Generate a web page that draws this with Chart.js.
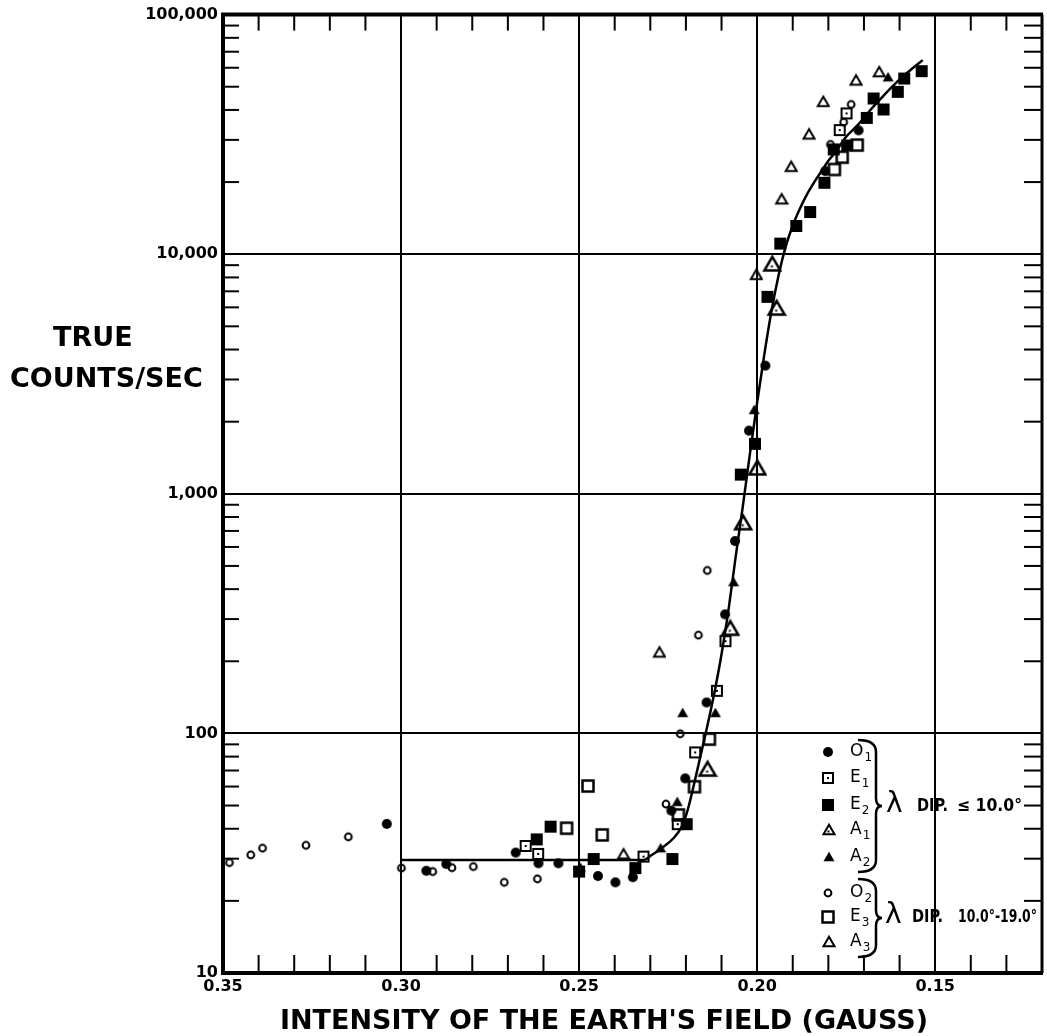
<!DOCTYPE html>
<html>
<head>
  <script src="https://cdn.jsdelivr.net/npm/chart.js@4.4.1/dist/chart.umd.min.js"></script>
  <style>
    * { margin: 0; padding: 0; box-sizing: border-box; }
    body { background: #fff; width: 1047px; height: 1036px; overflow: hidden; }
    #chart { display: block; background: #fff; }
  </style>
</head>
<body>
  <canvas id="chart" width="1047" height="1036"></canvas>

  <script>
    // axis ticks
    const xMajorTicks = [0.35, 0.30, 0.25, 0.20, 0.15];
    const xTickLabels = ['0.35', '0.30', '0.25', '0.20', '0.15'];
    const xMinorTicks = [0.34, 0.33, 0.32, 0.31, 0.29, 0.28, 0.27, 0.26, 0.24, 0.23, 0.22, 0.21,
                         0.19, 0.18, 0.17, 0.16, 0.14, 0.13];
    const yMajorTicks = [10, 100, 1000, 10000, 100000];
    const yTickLabels = ['10', '100', '1,000', '10,000', '100,000'];
    const yMinorTicks = [20, 30, 40, 50, 60, 70, 80, 90,
                         200, 300, 400, 500, 600, 700, 800, 900,
                         2000, 3000, 4000, 5000, 6000, 7000, 8000, 9000,
                         20000, 30000, 40000, 50000, 60000, 70000, 80000, 90000];

    // lambda dip <= 10.0
    const o1X = [0.3040, 0.2929, 0.2873, 0.2678, 0.2614, 0.2558, 0.2447, 0.2398, 0.2349, 0.2241,
                 0.2202, 0.2142, 0.2090, 0.2062, 0.2023, 0.1977, 0.1809, 0.1715];
    const o1Y = [41.9, 26.7, 28.5, 31.8, 28.7, 28.7, 25.4, 23.9, 25.1, 47.6,
                 64.9, 134.6, 314, 635, 1835, 3426, 22220, 32880];
    const e1X = [0.2650, 0.2615, 0.2319, 0.2223, 0.2174, 0.2113, 0.2089, 0.1768, 0.1749];
    const e1Y = [33.9, 31.4, 30.6, 41.8, 83.3, 150.5, 242.6, 32960, 38700];
    const e2X = [0.2619, 0.2580, 0.2500, 0.2459, 0.2342, 0.2238, 0.2198, 0.2046, 0.2006, 0.1971,
                 0.1935, 0.1890, 0.1851, 0.1811, 0.1785, 0.1747, 0.1692, 0.1673, 0.1645, 0.1605,
                 0.1587, 0.1538];
    const e2Y = [36.1, 40.8, 26.5, 29.9, 27.4, 29.9, 41.8, 1203, 1616, 6636,
                 11070, 13120, 15000, 19860, 27380, 28430, 37060, 44670, 40180, 47590,
                 54100, 58060];
    const a1X = [0.2142, 0.2078, 0.2042, 0.2002, 0.1948, 0.1960];
    const a1Y = [70.3, 272, 750, 1270, 5900, 9020];
    const a2X = [0.2499, 0.2274, 0.2227, 0.2212, 0.2120, 0.2069, 0.2011, 0.1635];
    const a2Y = [27.5, 33.2, 51.8, 121.8, 121.8, 428, 2240, 54800];

    // lambda dip 10.0 - 19.0
    const o2X = [0.3482, 0.3422, 0.3389, 0.3267, 0.3148, 0.2999, 0.2911, 0.2857, 0.2797, 0.2710,
                 0.2617, 0.2256, 0.2216, 0.2165, 0.2140, 0.1794, 0.1757, 0.1736];
    const o2Y = [28.9, 31.1, 33.2, 34.1, 37.0, 27.4, 26.5, 27.5, 27.8, 23.9,
                 24.7, 50.7, 99.6, 257, 478.6, 28710, 35570, 42170];
    const e3X = [0.2535, 0.2475, 0.2435, 0.2221, 0.2176, 0.2134, 0.1783, 0.1761, 0.1719];
    const e3Y = [40.2, 60.3, 37.7, 45.7, 59.9, 94.6, 22580, 25400, 28540];
    const a3X = [0.2378, 0.2277, 0.2005, 0.1934, 0.1907, 0.1857, 0.1817, 0.1725, 0.1660];
    const a3Y = [31.3, 217.6, 8200, 16950, 23170, 31620, 43230, 53090, 57540];

    // drawn curve
    const curveX = [0.300, 0.232, 0.2296, 0.2268, 0.2235, 0.2212, 0.2195, 0.2180, 0.2160, 0.2140,
                    0.2120, 0.2100, 0.2080, 0.2060, 0.2040, 0.2020, 0.2000, 0.1980, 0.1960, 0.1940,
                    0.1920, 0.1900, 0.1880, 0.1860, 0.1840, 0.1820, 0.1800, 0.1783, 0.1750, 0.1717,
                    0.1680, 0.1652, 0.1620, 0.1596, 0.1560, 0.1535];
    const curveY = [29.6, 29.6, 31.1, 33.2, 36.5, 40.8, 47.9, 58.9, 79.4, 107.2,
                    147.9, 213.8, 331, 549.5, 891, 1479, 2399, 3802, 5754, 8128,
                    10720, 13180, 15490, 17780, 19950, 22130, 24550, 26300, 30900, 34670,
                    40270, 44670, 50120, 54330, 60260, 64570];

    const toPoints = (xs, ys) => xs.map((x, i) => ({ x: x, y: ys[i] }));

    // marker images
    function symbol(size, draw) {
      const c = document.createElement('canvas');
      c.width = size;
      c.height = size;
      const g = c.getContext('2d');
      g.fillStyle = '#000';
      g.strokeStyle = '#000';
      draw(g, size / 2);
      return c;
    }
    function triPath(g, c, side) {
      const h = side * 0.866;
      g.beginPath();
      g.moveTo(c, c - h * 2 / 3);
      g.lineTo(c + side / 2, c + h / 3);
      g.lineTo(c - side / 2, c + h / 3);
      g.closePath();
    }
    const filledCircle = symbol(12, (g, c) => { g.beginPath(); g.arc(c, c, 5, 0, Math.PI * 2); g.fill(); });
    const openCircle = symbol(12, (g, c) => { g.lineWidth = 2; g.beginPath(); g.arc(c, c, 3.4, 0, Math.PI * 2); g.stroke(); });
    const dotSquare = symbol(14, (g, c) => { g.lineWidth = 2; g.strokeRect(2, 2, 10, 10); g.fillRect(c - 1, c - 1, 2, 2); });
    const filledSquare = symbol(14, (g) => { g.fillRect(1, 1, 12, 12); });
    const openSquare = symbol(16, (g) => { g.lineWidth = 2.5; g.strokeRect(2.5, 2.5, 11, 11); });
    const dotTriBig = symbol(22, (g, c) => { g.lineWidth = 2.5; triPath(g, c + 1, 16); g.stroke(); g.fillRect(c - 0.5, c + 0.5, 2, 2); });
    const dotTriSmall = symbol(16, (g, c) => { g.lineWidth = 2; triPath(g, c + 1, 11); g.stroke(); g.fillRect(c - 0.5, c + 0.5, 2, 2); });
    const filledTri = symbol(14, (g, c) => { triPath(g, c + 1, 11); g.fill(); });
    const openTri = symbol(16, (g, c) => { g.lineWidth = 2; triPath(g, c + 1, 11); g.stroke(); });

    const scatterSet = (xs, ys, style) => ({
      data: toPoints(xs, ys),
      pointStyle: style,
      showLine: false
    });

    const labelFont = { family: 'DejaVu Sans', weight: 'bold', size: 16 };

    // frame, inward ticks, titles and legend
    const decorations = {
      id: 'decorations',
      beforeDatasetsDraw(chart) {
        const { ctx, chartArea: a, scales } = chart;
        const line = (x1, y1, x2, y2) => { ctx.beginPath(); ctx.moveTo(x1, y1); ctx.lineTo(x2, y2); ctx.stroke(); };
        ctx.save();
        ctx.strokeStyle = '#000';
        ctx.lineWidth = 2;
        xMinorTicks.forEach(v => {
          const px = scales.x.getPixelForValue(v);
          line(px, a.top, px, a.top + 16);
          line(px, a.bottom, px, a.bottom - 18);
        });
        yMinorTicks.forEach(v => {
          const py = scales.y.getPixelForValue(v);
          line(a.left, py, a.left + 16, py);
          line(a.right, py, a.right - 18, py);
        });
        ctx.lineWidth = 4;
        line(a.left - 2, a.top, a.right + 1, a.top);
        line(a.left, a.top, a.left, a.bottom + 2);
        line(a.left - 2, a.bottom, a.right + 1, a.bottom);
        ctx.lineWidth = 3;
        line(a.right, a.top, a.right, a.bottom);
        ctx.restore();
      },
      afterDraw(chart) {
        const { ctx } = chart;
        ctx.save();
        ctx.fillStyle = '#000';
        ctx.strokeStyle = '#000';
        ctx.textBaseline = 'middle';

        // axis titles
        ctx.font = 'bold 27px "DejaVu Sans"';
        ctx.textAlign = 'left';
        ctx.fillText('TRUE', 53, 339);
        ctx.fillText('COUNTS/SEC', 10, 380);
        ctx.textAlign = 'center';
        ctx.fillText("INTENSITY OF THE EARTH'S FIELD (GAUSS)", 604, 1022);

        // legend
        const rows = [
          [filledCircle, 'O', '1', 752], [dotSquare, 'E', '1', 778], [filledSquare, 'E', '2', 805],
          [dotTriSmall, 'A', '1', 830], [filledTri, 'A', '2', 857],
          [openCircle, 'O', '2', 893], [openSquare, 'E', '3', 917], [openTri, 'A', '3', 942]
        ];
        ctx.textAlign = 'left';
        rows.forEach(([img, main, sub, y]) => {
          ctx.drawImage(img, 828 - img.width / 2, y - img.height / 2);
          ctx.font = '17px "DejaVu Sans"';
          ctx.fillText(main, 850, y);
          const w = ctx.measureText(main).width;
          ctx.font = '12px "DejaVu Sans"';
          ctx.fillText(sub, 850 + w + 1, y + 6);
        });

        const brace = (x, y1, y2, w) => {
          const m = (y1 + y2) / 2;
          const xv = x + w * 0.75;
          ctx.beginPath();
          ctx.moveTo(x, y1);
          ctx.quadraticCurveTo(xv, y1, xv, y1 + 12);
          ctx.lineTo(xv, m - 8);
          ctx.quadraticCurveTo(xv, m, x + w, m);
          ctx.quadraticCurveTo(xv, m, xv, m + 8);
          ctx.lineTo(xv, y2 - 12);
          ctx.quadraticCurveTo(xv, y2, x, y2);
          ctx.stroke();
        };
        ctx.lineWidth = 2.5;
        brace(858, 740, 872, 24);
        brace(858, 879, 957, 24);

        ctx.font = '28px "DejaVu Sans"';
        ctx.fillText('λ', 886, 805);
        ctx.fillText('λ', 885, 916);
        ctx.font = 'bold 17px "DejaVu Sans"';
        ctx.fillText('DIP.', 917, 807, 31);
        ctx.fillText('≤ 10.0°', 957, 807, 65);
        ctx.fillText('DIP.', 912, 918, 31);
        ctx.fillText('10.0°-19.0°', 958, 918, 79);
        ctx.restore();
      }
    };

    new Chart(document.getElementById('chart'), {
      type: 'scatter',
      data: {
        datasets: [
          scatterSet(o1X, o1Y, filledCircle),
          scatterSet(e1X, e1Y, dotSquare),
          scatterSet(e2X, e2Y, filledSquare),
          scatterSet(a1X, a1Y, dotTriBig),
          scatterSet(a2X, a2Y, filledTri),
          scatterSet(o2X, o2Y, openCircle),
          scatterSet(e3X, e3Y, openSquare),
          scatterSet(a3X, a3Y, openTri),
          {
            data: toPoints(curveX, curveY),
            showLine: true,
            pointRadius: 0,
            borderColor: '#000',
            borderWidth: 2.5,
            cubicInterpolationMode: 'monotone'
          }
        ]
      },
      options: {
        responsive: false,
        animation: false,
        layout: { padding: { top: 13, right: 1, left: 0, bottom: 0 } },
        plugins: { legend: { display: false }, tooltip: { enabled: false } },
        scales: {
          x: {
            type: 'linear',
            reverse: true,
            min: 0.12,
            max: 0.35,
            afterBuildTicks: s => { s.ticks = xMajorTicks.map(v => ({ value: v })); },
            afterFit: s => { s.height = 63; },
            border: { display: false },
            grid: { color: '#000', lineWidth: 2, drawTicks: false },
            ticks: {
              autoSkip: false,
              maxRotation: 0,
              padding: 4,
              color: '#000',
              font: labelFont,
              callback: (v, i) => xTickLabels[i]
            }
          },
          y: {
            type: 'logarithmic',
            min: 10,
            max: 100000,
            afterBuildTicks: s => { s.ticks = yMajorTicks.map(v => ({ value: v })); },
            afterFit: s => { s.width = 223; },
            border: { display: false },
            grid: { color: '#000', lineWidth: 2, drawTicks: false },
            ticks: {
              padding: 5,
              color: '#000',
              font: labelFont,
              callback: (v, i) => yTickLabels[i]
            }
          }
        }
      },
      plugins: [decorations]
    });
  </script>
</body>
</html>
